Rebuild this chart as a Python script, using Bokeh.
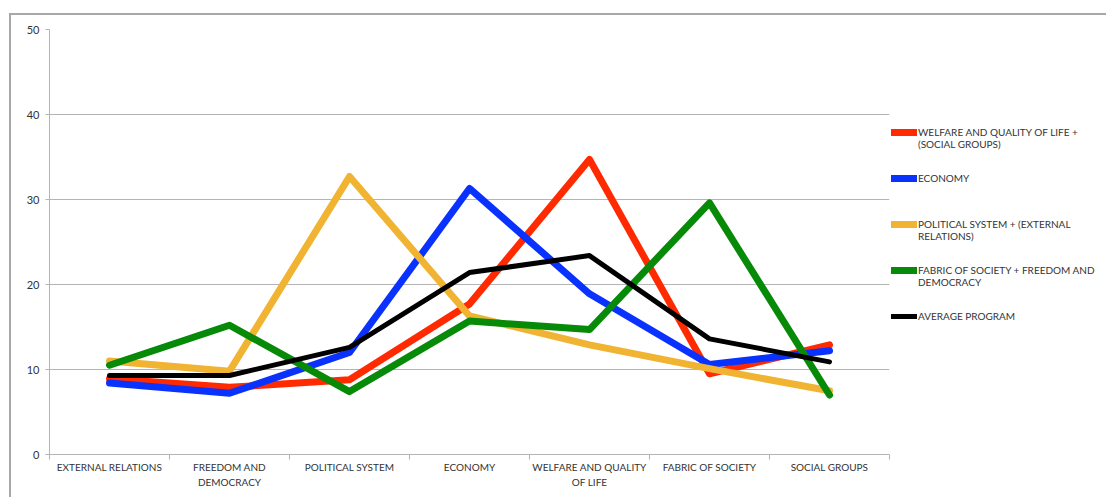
from bokeh.plotting import figure
from bokeh.models import (Range1d, FixedTicker, Legend, LegendItem, ColumnDataSource)
from bokeh.embed import file_html
from bokeh.resources import INLINE

# Policy areas along the x axis
categories = ["EXTERNAL RELATIONS", "FREEDOM AND\nDEMOCRACY", "POLITICAL SYSTEM",
              "ECONOMY", "WELFARE AND QUALITY\nOF LIFE", "FABRIC OF SOCIETY",
              "SOCIAL GROUPS"]

# Share of program content per policy area (%)
welfare = [8.9, 7.9, 8.8, 17.7, 34.7, 9.5, 12.9]
economy = [8.4, 7.2, 12.0, 31.3, 18.9, 10.6, 12.2]
political = [11.0, 9.8, 32.7, 16.3, 12.9, 10.1, 7.5]
fabric = [10.5, 15.2, 7.4, 15.7, 14.7, 29.6, 7.0]
average = [9.3, 9.3, 12.6, 21.4, 23.4, 13.6, 10.9]

series_names = [["WELFARE AND QUALITY OF LIFE +", "(SOCIAL GROUPS)"],
                ["ECONOMY"],
                ["POLITICAL SYSTEM + (EXTERNAL", "RELATIONS)"],
                ["FABRIC OF SOCIETY + FREEDOM AND", "DEMOCRACY"],
                ["AVERAGE PROGRAM"]]
series_values = [welfare, economy, political, fabric, average]
series_colors = ["#ff2a00", "#0a32ff", "#f0b432", "#078a07", "#000000"]
series_widths = [7, 7, 7, 7, 5]

y_ticks = [0, 10, 20, 30, 40, 50]

FONT = "Lato"
GRID = "#b4b4b4"
TEXT = "#333333"

# category centres sit in the middle of each unit-wide band
x_pos = [i + 0.5 for i in range(len(categories))]

p = figure(frame_width=840, frame_height=425, output_backend="svg", toolbar_location=None,
           x_range=Range1d(0, len(categories)), y_range=Range1d(0, 50),
           min_border_left=38, min_border_top=14, min_border_bottom=45,
           min_border_right=0)
p.margin = (13, 0, 0, 9)
p.styles = {"border-top": "2px solid #a8a8a8", "border-left": "2px solid #a8a8a8"}
p.outline_line_color = None
p.background_fill_color = "white"
p.border_fill_color = "white"

# y axis
p.yaxis.ticker = FixedTicker(ticks=y_ticks)
p.yaxis.axis_line_color = GRID
p.yaxis.major_tick_line_color = GRID
p.yaxis.major_tick_out = 4
p.yaxis.major_tick_in = 0
p.yaxis.minor_tick_line_color = None
p.yaxis.major_label_text_font = FONT
p.yaxis.major_label_text_font_size = "11px"
p.yaxis.major_label_text_color = TEXT
p.yaxis.major_label_standoff = 6

# x axis: labels at band centres, ticks on band boundaries
p.xaxis.ticker = FixedTicker(ticks=x_pos, minor_ticks=list(range(len(categories) + 1)))
p.xaxis.major_label_overrides = {x: c for x, c in zip(x_pos, categories)}
p.xaxis.major_tick_line_color = None
p.xaxis.major_tick_out = 0
p.xaxis.major_tick_in = 0
p.xaxis.minor_tick_line_color = GRID
p.xaxis.minor_tick_out = 5
p.xaxis.minor_tick_in = 0
p.xaxis.axis_line_color = GRID
p.xaxis.major_label_text_font = FONT
p.xaxis.major_label_text_font_size = "10px"
p.xaxis.major_label_text_line_height = 1.3
p.xaxis.major_label_text_color = TEXT
p.xaxis.major_label_standoff = 1

p.xgrid.grid_line_color = None
p.ygrid.ticker = FixedTicker(ticks=y_ticks)
p.ygrid.grid_line_color = GRID
p.ygrid.grid_line_width = 1


def legend_label(lines):
    # keep the swatch level with the first line of a wrapped label
    if len(lines) > 1:
        return "\n".join([" "] + lines)
    return lines[0]


items = []
for name, vals, col, w in zip(series_names, series_values, series_colors, series_widths):
    src = ColumnDataSource(dict(x=x_pos, y=vals))
    r = p.line("x", "y", source=src, line_color=col, line_width=w,
               line_join="round", line_cap="round")
    items.append(LegendItem(label=legend_label(name), renderers=[r]))

legend = Legend(items=items, location=(2, 116), orientation="vertical")
legend.border_line_color = None
legend.background_fill_alpha = 0
legend.label_text_font = FONT
legend.label_text_font_size = "10px"
legend.label_text_color = TEXT
legend.glyph_width = 26
legend.glyph_height = 14
legend.label_height = 45
legend.label_standoff = 1
legend.spacing = 1
legend.padding = 6
legend.margin = 0
p.add_layout(legend, "right")

open("out.html", "w").write(file_html(p, INLINE))
